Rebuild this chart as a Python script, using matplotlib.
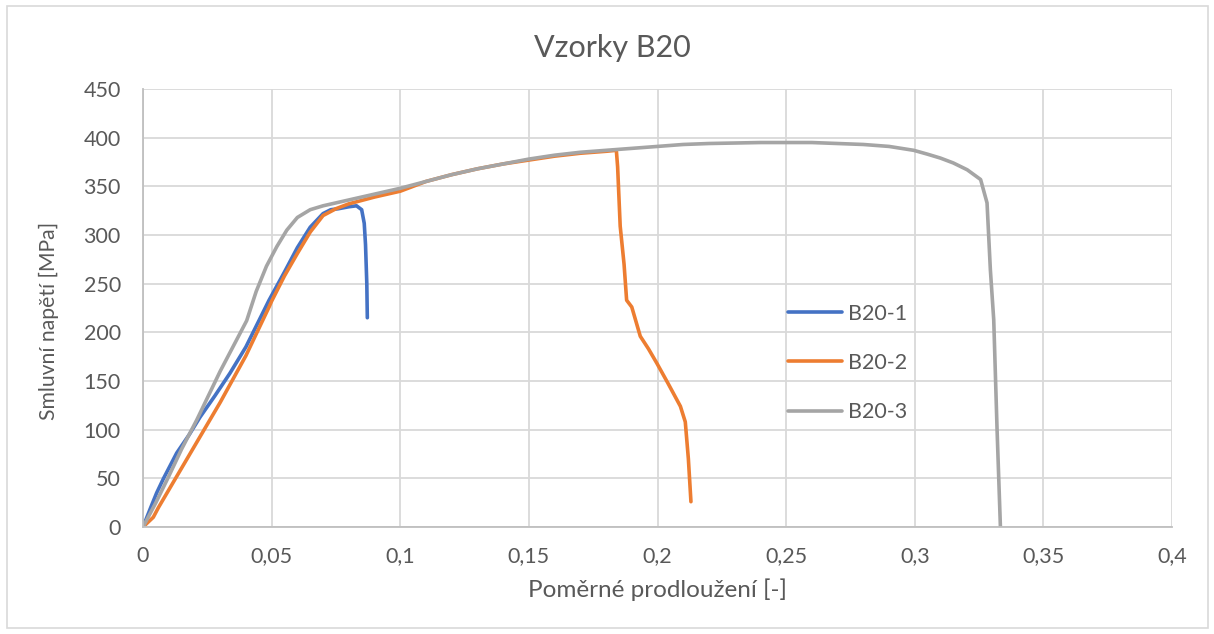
import matplotlib
matplotlib.use("Agg")
import matplotlib.pyplot as plt
from matplotlib.patches import Rectangle
from matplotlib.ticker import FuncFormatter

plt.rcParams['font.family'] = ['Lato', 'DejaVu Sans']

# B20-1 (blue)
x1 = [0, 0.003, 0.0053, 0.008, 0.0131, 0.018, 0.0222, 0.028, 0.0338, 0.04, 0.049,
      0.055, 0.06, 0.065, 0.07, 0.073, 0.076, 0.08, 0.083, 0.085, 0.086, 0.0865,
      0.087, 0.0872]
y1 = [0, 20, 35, 50, 76, 95, 113, 135, 158, 185, 233,
      262, 287, 308, 322, 326, 327, 329, 330, 326, 312, 290,
      250, 215]

# B20-2 (orange)
x2 = [0, 0.004, 0.006, 0.01, 0.02, 0.03, 0.04, 0.049, 0.05, 0.055, 0.06, 0.065,
      0.07, 0.075, 0.08, 0.09, 0.1, 0.11, 0.12, 0.13, 0.14, 0.15, 0.16, 0.17,
      0.18, 0.184, 0.1845, 0.1855, 0.187, 0.188, 0.19, 0.1933, 0.1965, 0.1998,
      0.204, 0.2089, 0.2108, 0.212, 0.213]
y2 = [0, 10, 20, 38, 83, 128, 176, 226, 232, 258, 281, 303,
      320, 327, 332, 339, 345, 355, 362, 368, 373, 377, 381, 384,
      386, 387, 370, 309, 270, 233, 226, 196, 183, 168,
      148, 124, 108, 70, 26]

# B20-3 (gray)
x3 = [0, 0.005, 0.01, 0.015, 0.0209, 0.03, 0.0403, 0.044, 0.048, 0.052, 0.0559,
      0.06, 0.065, 0.07, 0.08, 0.09, 0.1, 0.11, 0.12, 0.13, 0.14, 0.15, 0.16,
      0.17, 0.18, 0.19, 0.2, 0.21, 0.22, 0.23, 0.24, 0.25, 0.26, 0.27, 0.28,
      0.29, 0.2996, 0.305, 0.31, 0.315, 0.3204, 0.3256, 0.3281, 0.3294, 0.3307,
      0.332, 0.3333]
y3 = [0, 25, 52, 80, 110, 160, 212, 242, 268, 288, 305,
      318, 326, 330, 336, 342, 348, 355, 362, 368, 373, 378, 382,
      385, 387, 389, 391, 393, 394, 394.5, 395, 395, 395, 394, 393,
      391, 387, 383, 379, 374, 367, 357, 333, 264, 213,
      100, 0]

series = [("B20-1", x1, y1, "#4472C4"),
          ("B20-2", x2, y2, "#ED7D31"),
          ("B20-3", x3, y3, "#A5A5A5")]

txt = "#595959"
grid = "#D9D9D9"

fig = plt.figure(figsize=(12.14, 6.34), dpi=100)
ax = fig.add_axes([143/1214, 1 - 527/634, (1172-143)/1214, (527-89)/634])

for name, xs, ys, c in series:
    ax.plot(xs, ys, color=c, lw=2.6, label=name, solid_capstyle='round')

ax.set_xlim(0, 0.4)
ax.set_ylim(0, 450)
ax.set_xticks([i * 0.05 for i in range(9)])
ax.set_yticks(range(0, 451, 50))
ax.xaxis.set_major_formatter(FuncFormatter(lambda v, p: ("%g" % round(v, 2)).replace(".", ",")))
ax.grid(True, color=grid, lw=1.3)
ax.set_axisbelow(True)
for s in ["top", "right"]:
    ax.spines[s].set_visible(False)
for s in ["left", "bottom"]:
    ax.spines[s].set_color("#BFBFBF")
    ax.spines[s].set_linewidth(1.3)
ax.tick_params(length=0, labelsize=15.5, colors=txt)
ax.tick_params(axis='y', pad=16)
ax.tick_params(axis='x', pad=14)

fig.text(612/1214, 1 - 48/634, "Vzorky B20", fontsize=22, color=txt,
         ha='center', va='center')
ax.set_xlabel("Poměrné prodloužení [-]", fontsize=17.5, color=txt, va='center')
ax.xaxis.set_label_coords(0.5, (527-590)/438)
ax.set_ylabel("Smluvní napětí [MPa]", fontsize=15.2, color=txt, va='center')
ax.yaxis.set_label_coords((49-143)/1029, (527-321)/438)

ax.legend(loc="center left", bbox_to_anchor=((788-143)/1029, (527-363)/438),
          frameon=False, fontsize=15.5, labelcolor=txt, borderpad=0,
          borderaxespad=0, handlelength=2.5, handletextpad=0.3,
          labelspacing=1.36)

fig.patches.append(Rectangle((7/1214, 1 - 628/634), 1201/1214, 622/634,
                             transform=fig.transFigure, fill=False,
                             edgecolor=grid, lw=1.2))

fig.savefig("out.png", dpi=100)
